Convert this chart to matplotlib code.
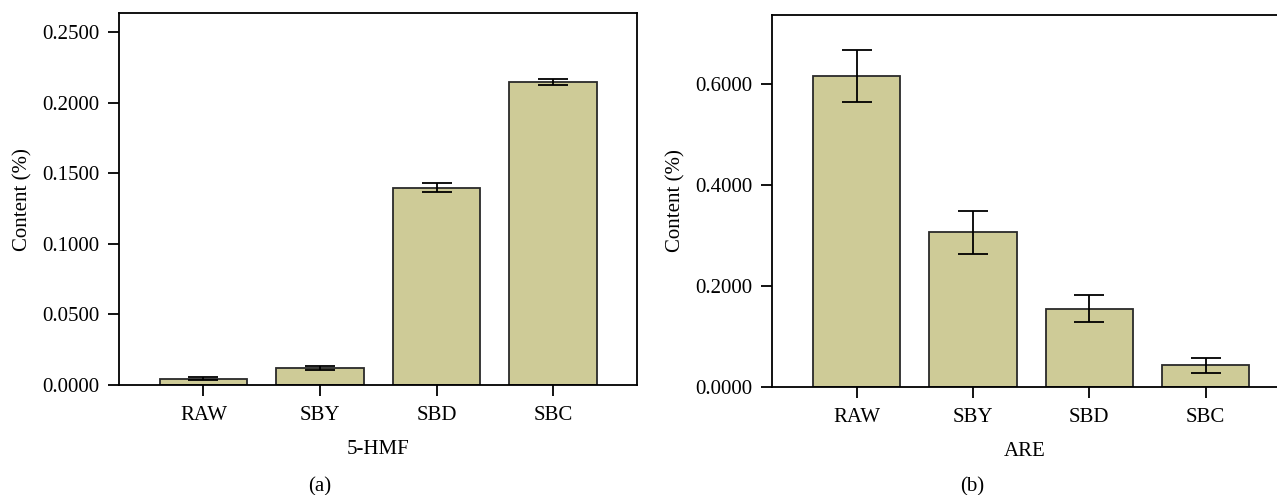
import matplotlib
matplotlib.use("Agg")
import matplotlib.pyplot as plt

# data
categories = ["RAW", "SBY", "SBD", "SBC"]
hmf_values = [0.0045, 0.0120, 0.1399, 0.2148]
hmf_errors = [0.0010, 0.0017, 0.0030, 0.0024]
are_values = [0.6166, 0.3063, 0.1548, 0.0423]
are_errors = [0.0510, 0.0420, 0.0265, 0.0155]
hmf_ticks = [0.0, 0.05, 0.10, 0.15, 0.20, 0.25]
are_ticks = [0.0, 0.2, 0.4, 0.6]

plt.rcParams["font.family"] = ["Liberation Serif", "DejaVu Serif"]
plt.rcParams["font.size"] = 15

bar_color = "#cecb97"
edge_color = "#2a2a2a"

fig = plt.figure(figsize=(12.77, 4.95), dpi=100)
ax1 = fig.add_axes([0.0932, 0.2222, 0.4060, 0.7509])
ax2 = fig.add_axes([0.6045, 0.2188, 0.3955, 0.7503])


def draw_panel(ax, values, errors, ticks, ylim, xlim, xlabel):
    x = range(len(categories))
    ax.bar(x, values, width=0.75, color=bar_color, edgecolor=edge_color,
           linewidth=1.3, zorder=2)
    ax.errorbar(x, values, yerr=errors, fmt="none", ecolor="black",
                elinewidth=1.3, capsize=10.5, capthick=1.3, zorder=3)
    ax.set_xlim(*xlim)
    ax.set_ylim(*ylim)
    ax.set_xticks(list(x))
    ax.set_xticklabels(categories)
    ax.set_yticks(ticks)
    ax.set_yticklabels(["%.4f" % t for t in ticks])
    ax.tick_params(direction="out", length=8, width=1.3, pad=6)
    ax.tick_params(axis="x", pad=7)
    for s in ax.spines.values():
        s.set_linewidth(1.3)
    ax.set_ylabel("Content (%)", labelpad=7)
    ax.set_xlabel(xlabel, labelpad=11)


draw_panel(ax1, hmf_values, hmf_errors, hmf_ticks, (0, 0.2635), (-0.725, 3.725), "5-HMF")
draw_panel(ax2, are_values, are_errors, are_ticks, (0, 0.737), (-0.727, 3.614), "ARE")
ax2.spines["right"].set_visible(False)

fig.text(320 / 1277, 0.016, "(a)", ha="center", va="center")
fig.text(972 / 1277, 0.016, "(b)", ha="center", va="center")

fig.savefig("out.png", dpi=100)
